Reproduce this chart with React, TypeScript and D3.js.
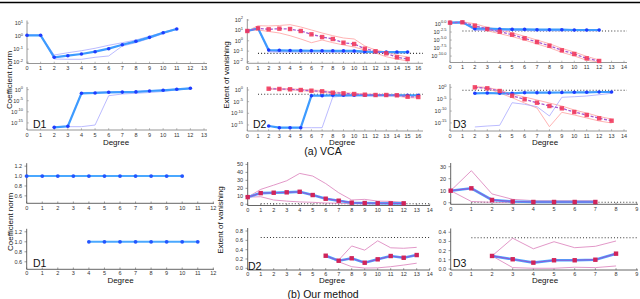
import React from "react";
import * as d3 from "d3";

const FONT = "'Liberation Sans', Arial, Helvetica, sans-serif";

// ================= DATA =================
// (a) VCA, D1 — coefficient norm (log)
const vcaD1TopDeg = [0, 1, 2, 3, 4, 5, 6, 7, 8, 9, 10, 11];
const vcaD1TopMain = [1.16, 1.16, 0.0238, 0.0316, 0.0426, 0.064, 0.109, 0.22, 0.4, 0.81, 1.84, 3.5];
const vcaD1TopUpper = [1.16, 1.16, 0.0356, 0.0535, 0.076, 0.117, 0.198, 0.313, 0.506, 0.97, 1.97, 4.0];
const vcaD1TopLower = [1.16, 1.16, 0.0176, 0.0167, 0.0167, 0.0238, 0.03, 0.175, 0.313, 0.68, 1.54, 3.35];
const vcaD1BotDeg = [2, 3, 4, 5, 6, 7, 8, 9, 10, 11, 12];
const vcaD1BotMain = [1.0e-17, 3e-17, 0.023, 0.032, 0.065, 0.08, 0.1, 0.25, 0.52, 1.47, 4.1];
const vcaD1BotUpper = [1.5e-17, 4e-17, 0.05, 0.06, 0.1, 0.13, 0.14, 0.35, 0.7, 1.9, 5];
const vcaD1BotLower = [1.0e-17, 2e-17, 2e-17, 1.1e-16, 0.0019, 0.011, 0.023, 0.052, 0.15, 0.71, 2.7];

// (a) VCA, D2 — extent of vanishing (log)
const vcaD2TopDeg = [0, 1, 2, 3, 4, 5, 6, 7, 8, 9, 10, 11, 12, 13, 14, 15];
const vcaD2TopRed = [8.8, 16, 12.8, 14.7, 13.7, 8.8, 4.2, 2.3, 1.49, 0.656, 0.49, 0.173, 0.097, 0.062, 0.0257, 0.0176];
const vcaD2TopRedUpper = [8.8, 28.6, 26.7, 29.9, 35.7, 21.4, 11, 5.65, 3.1, 1.86, 1.49, 0.315, 0.13, 0.083, 0.043, 0.027];
const vcaD2TopRedLower = [8.8, 11, 7.9, 5.65, 3.1, 1.49, 0.656, 1.19, 0.656, 0.39, 0.25, 0.13, 0.067, 0.029, 0.0176, 0.0113];
const vcaD2TopBlue = [8.8, 16, 0.13, 0.121, 0.115, 0.112, 0.11, 0.11, 0.108, 0.107, 0.105, 0.089, 0.083, 0.083, 0.082, 0.082];
const vcaD2TopBlueLower = [8.8, 16, 0.09, 0.088, 0.086, 0.085, 0.085, 0.084, 0.084, 0.083, 0.082, 0.078, 0.076, 0.076, 0.075, 0.075];
const vcaD2TopThreshold = 0.061;
const vcaD2BotDeg = [2, 3, 4, 5, 6, 7, 8, 9, 10, 11, 12, 13, 14, 15, 16];
const vcaD2BotRed = [3.7, 2.8, 2.05, 1.02, 0.51, 0.28, 0.071, 0.039, 0.019, 0.0098, 0.0072, 0.0072, 0.0055, 0.00135, 0.001];
const vcaD2BotRedUpper = [6, 4.5, 3.5, 2, 1, 0.6, 0.15, 0.08, 0.04, 0.02, 0.015, 0.014, 0.011, 0.004, 0.003];
const vcaD2BotRedLower = [2.2, 1.6, 1.2, 0.55, 0.25, 0.13, 0.03, 0.018, 0.009, 0.005, 0.0035, 0.0035, 0.0025, 0.0005, 0.0004];
const vcaD2BotBlue = [3.5e-16, 6.6e-17, 6.6e-17, 6.6e-17, 0.0036, 0.0036, 0.0055, 0.0055, 0.0056, 0.0056, 0.0057, 0.0057, 0.0058, 0.0058, 0.0058];
const vcaD2BotBlueLight = [3.5e-16, 6.6e-17, 6.6e-17, 6.6e-17, 6.6e-17, 6.6e-17, 0.001, 0.0025, 0.003, 0.0032, 0.0034, 0.0035, 0.0036, 0.0036, 0.0036];
const vcaD2BotThreshold = 0.0145;

// (a) VCA, D3 — extent of vanishing (log)
const vcaD3TopDeg = [0, 1, 2, 3, 4, 5, 6, 7, 8, 9, 10, 11, 12];
const vcaD3TopRed = [2.6, 3.4, 0.3, 0.0275, 0.004, 4.7e-4, 3.5e-5, 2.5e-6, 1.7e-7, 6.3e-9, 4.5e-10, 2e-11, 3e-12];
const vcaD3TopRedUpper = [3, 5, 1.2, 0.09, 0.015, 1.8e-3, 1.5e-4, 1e-5, 7e-7, 2.5e-8, 1.8e-9, 8e-11, 6e-12];
const vcaD3TopRedLower = [2.2, 2.5, 0.08, 0.008, 1e-3, 1.2e-4, 1e-5, 6e-7, 4e-8, 1.5e-9, 1.1e-10, 5e-12, 1.5e-12];
const vcaD3TopBlue = [2.6, 3.4, 0.035, 0.035, 0.0275, 0.022, 0.022, 0.0166, 0.0166, 0.0166, 0.0135, 0.0135, 0.0135];
const vcaD3TopBlueLower = [2.6, 3.4, 0.012, 0.015, 0.012, 0.01, 0.01, 0.009, 0.009, 0.009, 0.008, 0.008, 0.008];
const vcaD3TopThreshold = 0.0066;
const vcaD3BotDeg = [2, 3, 4, 5, 6, 7, 8, 9, 10, 11, 12, 13];
const vcaD3BotRed = [1.0, 0.39, 0.028, 3e-4, 9e-6, 3.3e-7, 1.35e-8, 1.4e-9, 4e-11, 2.2e-12, 9e-14, 8.7e-15];
const vcaD3BotRedUpper = [2.2, 0.83, 0.074, 1.5e-3, 8.3e-5, 4.6e-6, 2.4e-7, 1.35e-8, 2.8e-10, 1.5e-11, 5e-13, 4.5e-14];
const vcaD3BotRedLower = [1.0, 0.39, 0.004, 4.3e-5, 2.4e-7, 1.9e-9, 2.6e-17, 3e-11, 2.2e-12, 1.2e-13, 6.5e-15, 9.3e-16];
const vcaD3BotBlue = [0.003, 0.004, 0.003, 0.003, 0.0054, 0.0054, 0.0054, 0.0066, 0.0079, 0.0079, 0.0107, 0.0107];
const vcaD3BotBlueLight = [2e-17, 5e-17, 1e-16, 3.3e-7, 7e-8, 7e-9, 8.3e-13, 6.3e-5, 1.1e-4, 2.2e-4, 7.8e-4, 0.003];
const vcaD3BotThreshold = 0.055;

// (b) Our method, D1 — coefficient norm
const oursD1TopDeg = [0, 1, 2, 3, 4, 5, 6, 7, 8, 9, 10];
const oursD1TopVal = [1, 1, 1, 1, 1, 1, 1, 1, 1, 1, 1];
const oursD1BotDeg = [4, 5, 6, 7, 8, 9, 10, 11];
const oursD1BotVal = [1, 1, 1, 1, 1, 1, 1, 1];

// (b) Our method, D2 — extent of vanishing
const oursD2TopDeg = [0, 1, 2, 3, 4, 5, 6, 7, 8, 9, 10, 11, 12];
const oursD2TopMain = [9, 14, 14.5, 15, 15.7, 11.6, 7, 4.5, 2, 1.6, 1.3, 1.2, 1.2];
const oursD2TopUpper = [9, 18.7, 24, 29.5, 38.7, 35.4, 26, 14.5, 5.4, 6.2, 4, 3.7, 2.5];
const oursD2TopLower = [9, 9.5, 5.4, 4, 3, 2.5, 1.6, 1.3, 0.7, 0.7, 0.7, 0.7, 0.7];
const oursD2TopThreshold = 0.7;
const oursD2BotDeg = [6, 7, 8, 9, 10, 11, 12, 13];
const oursD2BotMain = [0.27, 0.163, 0.215, 0.12, 0.193, 0.264, 0.227, 0.285];
const oursD2BotUpper = [0.27, 0.178, 0.48, 0.39, 0.59, 0.44, 0.43, 0.45];
const oursD2BotLower = [0.27, 0.14, 0.035, 0.005, 0.01, 0.035, 0.07, 0.11];
const oursD2BotThreshold = 0.66;

// (b) Our method, D3 — extent of vanishing
const oursD3TopDeg = [0, 1, 2, 3, 4, 5, 6, 7];
const oursD3TopMain = [10, 12, 2.3, 1, 0.6, 0.6, 0.6, 0.6];
const oursD3TopUpper = [10, 26.7, 7.3, 2.8, 1.7, 1.7, 1.7, 1.7];
const oursD3TopLower = [10, 1, 0.3, 0.3, 0.3, 0.3, 0.3, 0.3];
const oursD3TopThreshold = 0.35;
const oursD3BotDeg = [2, 3, 4, 5, 6, 7, 8];
const oursD3BotMain = [0.142, 0.106, 0.069, 0.095, 0.095, 0.101, 0.167];
const oursD3BotUpper = [0.142, 0.335, 0.22, 0.297, 0.232, 0.247, 0.305];
const oursD3BotLower = [0.142, 0.015, 0.008, 0.008, 0.019, 0.015, 0.033];
const oursD3BotThreshold = 0.341;

// tick labels
const logTicks2 = ["2", "1", "0", "-1", "-2"];
const logTicksD1 = ["1", "0", "-1", "-2"];
const logTicksBottom = ["0", "-5", "-10", "-15"];
const logTicksD3 = ["0.0", "-2.5", "-5.0", "-7.5", "-10.0"];
const oursD1Ticks = ["0.6", "0.8", "1.0", "1.2"];
const oursD2TopTicks = ["0", "10", "20", "30", "40", "50"];
const oursD2BotTicks = ["0.0", "0.2", "0.4", "0.6", "0.8"];
const oursD3TopTicks = ["0", "10", "20", "30"];
const oursD3BotTicks = ["0.0", "0.1", "0.2", "0.3", "0.4"];

// ================= LAYOUT =================
type Cfg = {
  x0: number; x1: number; xMax: number; xEnd: number;
  yb: number; yt: number; lo: number; hi: number; log: boolean;
  vca: boolean; lblGap: number; xLblDy: number;
};
type Sc = { x: d3.ScaleLinear<number, number>; y: (v: number) => number };

function scales(c: Cfg): Sc {
  const x = d3.scaleLinear().domain([0, c.xMax]).range([c.x0, c.x1]);
  const ys = c.log
    ? d3.scaleLog().domain([Math.pow(10, c.lo), Math.pow(10, c.hi)]).range([c.yb, c.yt])
    : d3.scaleLinear().domain([c.lo, c.hi]).range([c.yb, c.yt]);
  return { x, y: (v: number) => ys(v) as number };
}

const linePath = (s: Sc, xs: number[], ys: number[]) =>
  d3.line<number>().x((_, i) => s.x(xs[i])).y((d) => s.y(d))(ys) || "";

function Axes({ c, s, yt }: { c: Cfg; s: Sc; yt: string[] }) {
  const col = c.vca ? "#8a8a8a" : "#555";
  const xt = d3.range(0, c.xMax + 1);
  return (
    <g>
      <line x1={c.x0} x2={c.x0} y1={c.yb} y2={c.yt} stroke={col} strokeWidth={0.9} />
      <line x1={c.x0} x2={c.xEnd} y1={c.yb} y2={c.yb} stroke={col} strokeWidth={0.9} />
      {xt.map((t) => (
        <g key={t}>
          <line x1={s.x(t)} x2={s.x(t)} y1={c.yb} y2={c.yb - 1.8} stroke={col} strokeWidth={0.6} />
          <text x={s.x(t)} y={c.yb + c.xLblDy} fontSize={5.5} textAnchor="middle" fill="#333">{t}</text>
        </g>
      ))}
      {yt.map((t) => {
        const v = c.log ? Math.pow(10, parseFloat(t)) : parseFloat(t);
        const yy = s.y(v);
        return (
          <g key={t}>
            {c.vca ? (
              <line x1={c.x0} x2={c.x0 + 1.8} y1={yy} y2={yy} stroke={col} strokeWidth={0.6} />
            ) : (
              <line x1={c.x0 - 2.2} x2={c.x0} y1={yy} y2={yy} stroke={col} strokeWidth={0.6} />
            )}
            {c.log ? (
              <text x={c.x0 - c.lblGap} y={yy + 2} fontSize={5.5} textAnchor="end" fill="#333">
                10<tspan fontSize={4} dy={-2.6}>{t}</tspan>
              </text>
            ) : (
              <text x={c.x0 - c.lblGap} y={yy + 2} fontSize={5.5} textAnchor="end" fill="#333">{t}</text>
            )}
          </g>
        );
      })}
    </g>
  );
}

function BandLine({ s, xs, ys, color, w = 0.9 }: { s: Sc; xs: number[]; ys: number[]; color: string; w?: number }) {
  return <path d={linePath(s, xs, ys)} fill="none" stroke={color} strokeWidth={w} />;
}

function VcaBlue({ s, xs, ys }: { s: Sc; xs: number[]; ys: number[] }) {
  return (
    <g>
      <path d={linePath(s, xs, ys)} fill="none" stroke="#3d9bff" strokeWidth={2.2} />
      {xs.map((x, i) => (
        <circle key={i} cx={s.x(x)} cy={s.y(ys[i])} r={1.8} fill="#1e3cff" />
      ))}
    </g>
  );
}

function VcaRed({ s, xs, ys }: { s: Sc; xs: number[]; ys: number[] }) {
  return (
    <g>
      <path d={linePath(s, xs, ys)} fill="none" stroke="#a65bd0" strokeWidth={1.3} strokeDasharray="3 1.6" />
      {xs.map((x, i) => (
        <rect key={i} x={s.x(x) - 2.2} y={s.y(ys[i]) - 2.2} width={4.4} height={4.4} fill="#f23a5c" opacity={0.9} />
      ))}
    </g>
  );
}

function OursRed({ s, xs, ys }: { s: Sc; xs: number[]; ys: number[] }) {
  const d = linePath(s, xs, ys);
  return (
    <g>
      <path d={d} fill="none" stroke="#4aa8ff" strokeWidth={2.6} />
      <path d={d} fill="none" stroke="#8c5bd8" strokeWidth={1.2} />
      {xs.map((x, i) => (
        <rect key={i} x={s.x(x) - 2.2} y={s.y(ys[i]) - 2.2} width={4.4} height={4.4} fill="#d0245a" />
      ))}
    </g>
  );
}

function OursBlue({ s, xs, ys }: { s: Sc; xs: number[]; ys: number[] }) {
  return (
    <g>
      <path d={linePath(s, xs, ys)} fill="none" stroke="#4aa8ff" strokeWidth={2} />
      {xs.map((x, i) => (
        <circle key={i} cx={s.x(x)} cy={s.y(ys[i])} r={1.9} fill="#2255ff" />
      ))}
    </g>
  );
}

function Threshold({ s, c, v, from = 1 }: { s: Sc; c: Cfg; v: number; from?: number }) {
  const y = s.y(v);
  return <line x1={s.x(from)} x2={c.xEnd} y1={y} y2={y} stroke="#333" strokeWidth={1.1} strokeDasharray="1 2.1" />;
}

const PINK_VCA = "#ffaaaa";
const BLUE_LIGHT = "#a9a9ff";
const PINK_OURS = "#df8cc2";

const cVcaD1Top: Cfg = { x0: 27, x1: 204, xMax: 13, xEnd: 207, yb: 63.5, yt: 20.5, lo: -2.1, hi: 1.2, log: true, vca: true, lblGap: 4, xLblDy: 6.6 };
const cVcaD1Bot: Cfg = { x0: 27, x1: 204, xMax: 13, xEnd: 207, yb: 130, yt: 87, lo: -18.2, hi: 1.2, log: true, vca: true, lblGap: 4, xLblDy: 6.6 };
const cVcaD2Top: Cfg = { x0: 247.3, x1: 418.3, xMax: 16, xEnd: 423, yb: 63.3, yt: 19, lo: -2.17, hi: 2.1, log: true, vca: true, lblGap: 4.3, xLblDy: 6.6 };
const cVcaD2Bot: Cfg = { x0: 247.3, x1: 418.3, xMax: 16, xEnd: 423, yb: 131, yt: 87, lo: -17.6, hi: 1.3, log: true, vca: true, lblGap: 4.3, xLblDy: 6.6 };
const cVcaD3Top: Cfg = { x0: 450, x1: 624, xMax: 14, xEnd: 627, yb: 62.5, yt: 20, lo: -12, hi: 1.25, log: true, vca: true, lblGap: 3.5, xLblDy: 6.6 };
const cVcaD3Bot: Cfg = { x0: 450, x1: 624, xMax: 14, xEnd: 627, yb: 131, yt: 84, lo: -18.4, hi: 1.4, log: true, vca: true, lblGap: 3.5, xLblDy: 6.6 };
const cOursD1Top: Cfg = { x0: 26.7, x1: 213.3, xMax: 12, xEnd: 214, yb: 203.3, yt: 163.2, lo: 0.45, hi: 1.26, log: false, vca: false, lblGap: 4.5, xLblDy: 6.3 };
const cOursD1Bot: Cfg = { x0: 26.7, x1: 213.3, xMax: 12, xEnd: 214, yb: 269.3, yt: 228.8, lo: 0.45, hi: 1.26, log: false, vca: false, lblGap: 4.5, xLblDy: 5.9 };
const cOursD2Top: Cfg = { x0: 247.7, x1: 429.7, xMax: 14, xEnd: 430, yb: 205.5, yt: 162, lo: -1.5, hi: 53, log: false, vca: false, lblGap: 4.5, xLblDy: 6.3 };
const cOursD2Bot: Cfg = { x0: 247.7, x1: 429.7, xMax: 14, xEnd: 430, yb: 270, yt: 228, lo: -0.036, hi: 0.865, log: false, vca: false, lblGap: 4.5, xLblDy: 5.8 };
const cOursD3Top: Cfg = { x0: 450.7, x1: 636.7, xMax: 9, xEnd: 638, yb: 204.3, yt: 163, lo: -1.33, hi: 33.1, log: false, vca: false, lblGap: 4.5, xLblDy: 6.3 };
const cOursD3Bot: Cfg = { x0: 450.7, x1: 636.7, xMax: 9, xEnd: 638, yb: 270, yt: 228.5, lo: -0.011, hi: 0.441, log: false, vca: false, lblGap: 4.5, xLblDy: 5.8 };

export default function App() {
  const a1 = scales(cVcaD1Top), a1b = scales(cVcaD1Bot);
  const a2 = scales(cVcaD2Top), a2b = scales(cVcaD2Bot);
  const a3 = scales(cVcaD3Top), a3b = scales(cVcaD3Bot);
  const b1 = scales(cOursD1Top), b1b = scales(cOursD1Bot);
  const b2 = scales(cOursD2Top), b2b = scales(cOursD2Bot);
  const b3 = scales(cOursD3Top), b3b = scales(cOursD3Bot);

  const txt = { fontFamily: FONT, fill: "#111" } as const;

  return (
    <svg width={640} height={299} viewBox="0 0 640 299"
      style={{ position: "absolute", left: 0, top: 0, background: "#fff", fontFamily: FONT }}>
      <rect width={640} height={299} fill="#fff" />
      <line x1={0} x2={640} y1={2.5} y2={2.5} stroke="#000" strokeWidth={1.6} />

      {/* ---------- (a) VCA D1 ---------- */}
      <Axes c={cVcaD1Top} s={a1} yt={logTicksD1} />
      <BandLine s={a1} xs={vcaD1TopDeg} ys={vcaD1TopUpper} color={BLUE_LIGHT} w={0.8} />
      <BandLine s={a1} xs={vcaD1TopDeg} ys={vcaD1TopLower} color={BLUE_LIGHT} w={0.8} />
      <VcaBlue s={a1} xs={vcaD1TopDeg} ys={vcaD1TopMain} />
      <Axes c={cVcaD1Bot} s={a1b} yt={logTicksBottom} />
      <BandLine s={a1b} xs={vcaD1BotDeg} ys={vcaD1BotUpper} color={BLUE_LIGHT} w={0.8} />
      <BandLine s={a1b} xs={vcaD1BotDeg} ys={vcaD1BotLower} color={BLUE_LIGHT} w={0.8} />
      <VcaBlue s={a1b} xs={vcaD1BotDeg} ys={vcaD1BotMain} />
      <text x={33} y={127.5} fontSize={10.5} {...txt}>D1</text>
      <text x={116} y={144.8} fontSize={8} textAnchor="middle" {...txt}>Degree</text>
      <text transform="translate(11.5,80) rotate(-90)" fontSize={8} textAnchor="middle" {...txt}>Coefficient norm</text>

      {/* ---------- (a) VCA D2 ---------- */}
      <Axes c={cVcaD2Top} s={a2} yt={logTicks2} />
      <Threshold s={a2} c={cVcaD2Top} v={vcaD2TopThreshold} />
      <BandLine s={a2} xs={vcaD2TopDeg} ys={vcaD2TopRedUpper} color={PINK_VCA} />
      <BandLine s={a2} xs={vcaD2TopDeg} ys={vcaD2TopRedLower} color={PINK_VCA} />
      <BandLine s={a2} xs={vcaD2TopDeg} ys={vcaD2TopBlueLower} color={BLUE_LIGHT} w={1.4} />
      <VcaBlue s={a2} xs={vcaD2TopDeg} ys={vcaD2TopBlue} />
      <VcaRed s={a2} xs={vcaD2TopDeg} ys={vcaD2TopRed} />
      <Axes c={cVcaD2Bot} s={a2b} yt={logTicksBottom} />
      <Threshold s={a2b} c={cVcaD2Bot} v={vcaD2BotThreshold} />
      <BandLine s={a2b} xs={vcaD2BotDeg} ys={vcaD2BotRedUpper} color={PINK_VCA} />
      <BandLine s={a2b} xs={vcaD2BotDeg} ys={vcaD2BotRedLower} color={PINK_VCA} />
      <BandLine s={a2b} xs={vcaD2BotDeg} ys={vcaD2BotBlueLight} color={BLUE_LIGHT} w={0.8} />
      <VcaBlue s={a2b} xs={vcaD2BotDeg} ys={vcaD2BotBlue} />
      <VcaRed s={a2b} xs={vcaD2BotDeg} ys={vcaD2BotRed} />
      <text x={253} y={127.5} fontSize={10.5} {...txt}>D2</text>
      <text x={342} y={144.8} fontSize={8} textAnchor="middle" {...txt}>Degree</text>
      <text transform="translate(229,75) rotate(-90)" fontSize={8} textAnchor="middle" {...txt}>Extent of vanishing</text>

      {/* ---------- (a) VCA D3 ---------- */}
      <Axes c={cVcaD3Top} s={a3} yt={logTicksD3} />
      <Threshold s={a3} c={cVcaD3Top} v={vcaD3TopThreshold} />
      <BandLine s={a3} xs={vcaD3TopDeg} ys={vcaD3TopRedUpper} color={PINK_VCA} />
      <BandLine s={a3} xs={vcaD3TopDeg} ys={vcaD3TopRedLower} color={PINK_VCA} />
      <BandLine s={a3} xs={vcaD3TopDeg} ys={vcaD3TopBlueLower} color={BLUE_LIGHT} w={1.2} />
      <VcaBlue s={a3} xs={vcaD3TopDeg} ys={vcaD3TopBlue} />
      <VcaRed s={a3} xs={vcaD3TopDeg} ys={vcaD3TopRed} />
      <Axes c={cVcaD3Bot} s={a3b} yt={logTicksBottom} />
      <Threshold s={a3b} c={cVcaD3Bot} v={vcaD3BotThreshold} />
      <BandLine s={a3b} xs={vcaD3BotDeg} ys={vcaD3BotRedUpper} color={PINK_VCA} />
      <BandLine s={a3b} xs={vcaD3BotDeg} ys={vcaD3BotRedLower} color={PINK_VCA} />
      <BandLine s={a3b} xs={vcaD3BotDeg} ys={vcaD3BotBlueLight} color={BLUE_LIGHT} w={0.8} />
      <VcaBlue s={a3b} xs={vcaD3BotDeg} ys={vcaD3BotBlue} />
      <VcaRed s={a3b} xs={vcaD3BotDeg} ys={vcaD3BotRed} />
      <text x={453} y={127.5} fontSize={10.5} {...txt}>D3</text>
      <text x={545} y={144.8} fontSize={8} textAnchor="middle" {...txt}>Degree</text>

      <text x={323} y={155} fontSize={10.5} textAnchor="middle" {...txt}>(a) VCA</text>

      {/* ---------- (b) Ours D1 ---------- */}
      <Axes c={cOursD1Top} s={b1} yt={oursD1Ticks} />
      <OursBlue s={b1} xs={oursD1TopDeg} ys={oursD1TopVal} />
      <Axes c={cOursD1Bot} s={b1b} yt={oursD1Ticks} />
      <OursBlue s={b1b} xs={oursD1BotDeg} ys={oursD1BotVal} />
      <text x={33} y={267} fontSize={10.5} {...txt}>D1</text>
      <text x={120.5} y={283.2} fontSize={8} textAnchor="middle" {...txt}>Degree</text>
      <text transform="translate(12.5,222) rotate(-90)" fontSize={8} textAnchor="middle" {...txt}>Coefficient norm</text>

      {/* ---------- (b) Ours D2 ---------- */}
      <Axes c={cOursD2Top} s={b2} yt={oursD2TopTicks} />
      <Threshold s={b2} c={cOursD2Top} v={oursD2TopThreshold} />
      <BandLine s={b2} xs={oursD2TopDeg} ys={oursD2TopUpper} color={PINK_OURS} />
      <BandLine s={b2} xs={oursD2TopDeg} ys={oursD2TopLower} color={PINK_OURS} />
      <OursRed s={b2} xs={oursD2TopDeg} ys={oursD2TopMain} />
      <Axes c={cOursD2Bot} s={b2b} yt={oursD2BotTicks} />
      <Threshold s={b2b} c={cOursD2Bot} v={oursD2BotThreshold} />
      <BandLine s={b2b} xs={oursD2BotDeg} ys={oursD2BotUpper} color={PINK_OURS} />
      <BandLine s={b2b} xs={oursD2BotDeg} ys={oursD2BotLower} color={PINK_OURS} />
      <OursRed s={b2b} xs={oursD2BotDeg} ys={oursD2BotMain} />
      <text x={248} y={269.5} fontSize={10.5} {...txt}>D2</text>
      <text x={332} y={283.2} fontSize={8} textAnchor="middle" {...txt}>Degree</text>
      <text transform="translate(222.5,220) rotate(-90)" fontSize={8} textAnchor="middle" {...txt}>Extent of vanishing</text>

      {/* ---------- (b) Ours D3 ---------- */}
      <Axes c={cOursD3Top} s={b3} yt={oursD3TopTicks} />
      <Threshold s={b3} c={cOursD3Top} v={oursD3TopThreshold} />
      <BandLine s={b3} xs={oursD3TopDeg} ys={oursD3TopUpper} color={PINK_OURS} />
      <BandLine s={b3} xs={oursD3TopDeg} ys={oursD3TopLower} color={PINK_OURS} />
      <OursRed s={b3} xs={oursD3TopDeg} ys={oursD3TopMain} />
      <Axes c={cOursD3Bot} s={b3b} yt={oursD3BotTicks} />
      <Threshold s={b3b} c={cOursD3Bot} v={oursD3BotThreshold} />
      <BandLine s={b3b} xs={oursD3BotDeg} ys={oursD3BotUpper} color={PINK_OURS} />
      <BandLine s={b3b} xs={oursD3BotDeg} ys={oursD3BotLower} color={PINK_OURS} />
      <OursRed s={b3b} xs={oursD3BotDeg} ys={oursD3BotMain} />
      <text x={453} y={267} fontSize={10.5} {...txt}>D3</text>
      <text x={545} y={283.2} fontSize={8} textAnchor="middle" {...txt}>Degree</text>

      <text x={323} y={297.5} fontSize={10.5} textAnchor="middle" {...txt}>(b) Our method</text>
    </svg>
  );
}
